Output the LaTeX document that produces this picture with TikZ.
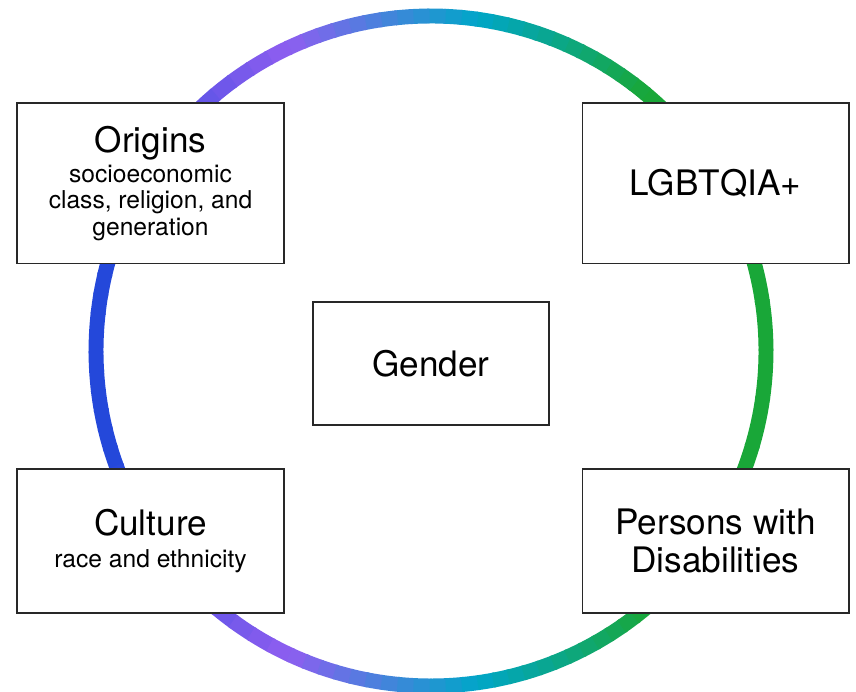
\documentclass[tikz,border=0pt]{standalone}
\usepackage{fontspec}
\setmainfont{TeX Gyre Heros}
\usepackage{xcolor}
\usepackage{tikz}
\usetikzlibrary{positioning, calc}

\definecolor{ringgreen}{RGB}{25,167,56}
\definecolor{ringcyan}{RGB}{0,166,200}
\definecolor{ringpurple}{RGB}{142,94,240}
\definecolor{ringblue}{RGB}{36,72,218}
\definecolor{boxline}{RGB}{40,40,40}

\tikzset{
    ring/.style={line width=8.5pt},
    topic/.style={draw=boxline, line width=0.6pt, fill=white, align=center, inner sep=0pt,
        minimum width=5.34cm, minimum height=3.22cm, font=\fontsize{14}{15}\selectfont},
}
\newcommand{\headfont}{\fontsize{20}{22}\selectfont}

\begin{document}
\begin{tikzpicture}[x=0.02cm, y=0.02cm]
    \useasboundingbox (0,0) rectangle (856,692);
    \coordinate (ringc) at (431,341);

    % Ring, coloured by angle
    \foreach \sa/\ea/\ca/\cb in {-50/50/ringgreen/ringgreen, 50/82/ringgreen/ringcyan,
        82/115/ringcyan/ringpurple, 115/160/ringpurple/ringblue, 160/200/ringblue/ringblue,
        200/245/ringblue/ringpurple, 245/278/ringpurple/ringcyan, 278/310/ringcyan/ringgreen} {
        \foreach \k in {0,...,11} {
            \pgfmathsetmacro{\pa}{\sa+(\ea-\sa)*\k/12}
            \pgfmathsetmacro{\pb}{\sa+(\ea-\sa)*(\k+1)/12+0.4}
            \pgfmathsetmacro{\mix}{100-100*(\k+0.5)/12}
            \draw[ring, \ca!\mix!\cb] (ringc) ++(\pa:335) arc[start angle=\pa, end angle=\pb, radius=335];
        }
    }

    % Centre
    \node[topic, minimum width=4.72cm, minimum height=2.46cm, font=\headfont] (gender) at (431,328.5) {Gender};

    % Corners
    \node[topic] (origins) at (150.5,508.5) {{\headfont Origins}\\[2pt] socioeconomic\\ class, religion, and\\ generation};
    \node[topic, font=\headfont] (lgbtq) at (715.5,508.5) {LGBTQIA+};
    \node[topic, minimum height=2.88cm] (culture) at (150.5,151) {{\headfont Culture}\\[3pt] race and ethnicity};
    \node[topic, minimum height=2.88cm, font=\headfont] (disab) at (715.5,151) {Persons with\\ Disabilities};
\end{tikzpicture}
\end{document}
